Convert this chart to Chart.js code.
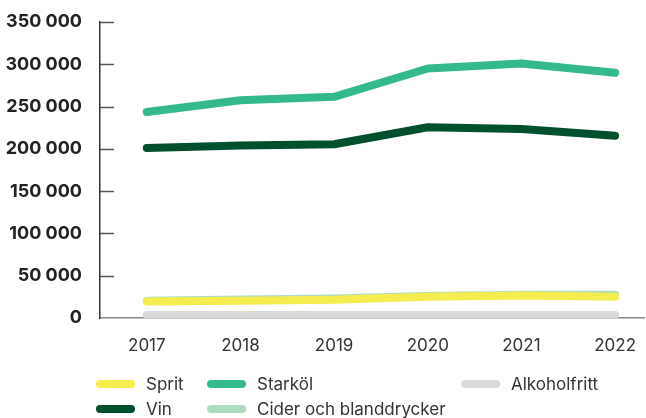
<!DOCTYPE html>
<html>
<head>
<meta charset="utf-8">
<script src="https://cdn.jsdelivr.net/npm/chart.js@4.4.0/dist/chart.umd.min.js"></script>
<style>
  html, body { margin: 0; padding: 0; background: #fff; }
  #wrap { position: relative; width: 646px; height: 418px; }
  #legend { position: absolute; left: 0; top: 0; width: 646px; height: 418px; pointer-events: none;
    font-family: Inter, "Noto Sans", sans-serif; font-size: 17px; color: #333; }
  .item { position: absolute; display: flex; align-items: center; white-space: nowrap; }
  .sw { width: 39px; height: 8px; border-radius: 4px; margin-right: 11px; }
</style>
</head>
<body>
<div id="wrap">
  <canvas id="c" width="646" height="418"></canvas>
  <div id="legend"></div>
</div>
<script>
const years = [2017, 2018, 2019, 2020, 2021, 2022];
const yTicks = [0, 50000, 100000, 150000, 200000, 250000, 300000, 350000];

const sprit = [19500, 20500, 21500, 25000, 26500, 25000];
const vin = [201000, 204000, 205500, 225500, 223500, 215500];
const starkol = [243500, 257500, 261500, 295000, 301000, 290000];
const cider = [20500, 22000, 23000, 26000, 27500, 27500];
const alkoholfritt = [3500, 3500, 3500, 3500, 3500, 3500];

// first in the list is drawn on top
const series = [
  { label: 'Starköl', data: starkol, color: '#34b98a' },
  { label: 'Vin', data: vin, color: '#004f2d' },
  { label: 'Sprit', data: sprit, color: '#f5ec4f' },
  { label: 'Cider och blanddrycker', data: cider, color: '#aedcc0' },
  { label: 'Alkoholfritt', data: alkoholfritt, color: '#d9d9d9' }
];

const fmt = v => String(v).replace(/\B(?=(\d{3})+(?!\d))/g, ' ');

// short tick marks on the inside of the y axis
const innerTicks = {
  id: 'innerTicks',
  afterDraw(chart) {
    const y = chart.scales.y;
    const ctx = chart.ctx;
    const left = chart.chartArea.left;
    ctx.save();
    ctx.strokeStyle = '#555';
    ctx.lineWidth = 1.5;
    y.ticks.forEach(t => {
      if (t.value === 0) return;
      const py = Math.round(y.getPixelForValue(t.value)) + 0.5;
      ctx.beginPath();
      ctx.moveTo(left, py);
      ctx.lineTo(left + 14, py);
      ctx.stroke();
    });
    ctx.restore();
  }
};

new Chart(document.getElementById('c'), {
  type: 'line',
  data: {
    datasets: series.map(s => ({
      label: s.label,
      data: s.data.map((v, i) => ({ x: years[i], y: v })),
      borderColor: s.color,
      backgroundColor: s.color,
      borderWidth: 8,
      borderCapStyle: 'round',
      borderJoinStyle: 'round',
      pointRadius: 0,
      tension: 0
    }))
  },
  options: {
    responsive: false,
    animation: false,
    layout: { padding: { top: 22, right: 0, left: 0, bottom: 0 } },
    plugins: { legend: { display: false }, tooltip: { enabled: false } },
    scales: {
      x: {
        type: 'linear',
        min: 2016.5,
        max: 2022.31,
        afterBuildTicks(scale) {
          scale.ticks = years.map(v => ({ value: v }));
        },
        afterFit(scale) { scale.height = 100; },
        grid: { display: false },
        border: { color: '#888', width: 1.5 },
        ticks: {
          padding: 10,
          color: '#333',
          font: { family: 'Inter', size: 17 },
          callback: v => String(v),
          maxRotation: 0
        }
      },
      y: {
        min: 0,
        max: 350000,
        afterBuildTicks(scale) {
          scale.ticks = yTicks.map(v => ({ value: v }));
        },
        afterFit(scale) { scale.width = 100; },
        grid: { display: false },
        border: { color: '#333', width: 1.5 },
        ticks: {
          padding: 10,
          color: '#222',
          font: { family: 'Inter', size: 18, weight: '700' },
          callback: v => fmt(v)
        }
      }
    }
  },
  plugins: [innerTicks]
});

// legend laid out in columns as in the original
const legendItems = [
  { label: 'Sprit', color: '#f5ec4f', x: 96, y: 384 },
  { label: 'Vin', color: '#004f2d', x: 96, y: 409 },
  { label: 'Starköl', color: '#34b98a', x: 207, y: 384 },
  { label: 'Cider och blanddrycker', color: '#aedcc0', x: 207, y: 409 },
  { label: 'Alkoholfritt', color: '#d9d9d9', x: 461, y: 384 }
];
const legend = document.getElementById('legend');
legendItems.forEach(it => {
  const d = document.createElement('div');
  d.className = 'item';
  d.style.left = it.x + 'px';
  d.style.top = (it.y - 11) + 'px';
  d.style.height = '22px';
  const sw = document.createElement('span');
  sw.className = 'sw';
  sw.style.background = it.color;
  const tx = document.createElement('span');
  tx.textContent = it.label;
  d.appendChild(sw);
  d.appendChild(tx);
  legend.appendChild(d);
});
</script>
</body>
</html>
